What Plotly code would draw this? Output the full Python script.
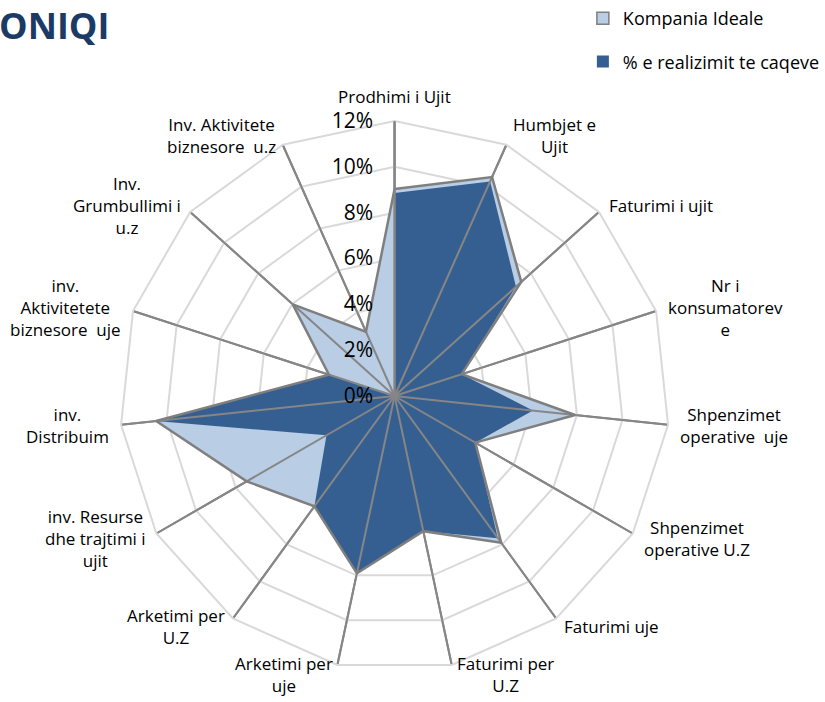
import math
import plotly.graph_objects as go

categories = ["Prodhimi i Ujit", "Humbjet e Ujit", "Faturimi i ujit", "Nr i konsumatorev e",
              "Shpenzimet operative uje", "Shpenzimet operative U.Z", "Faturimi uje",
              "Faturimi per U.Z", "Arketimi per uje", "Arketimi per U.Z",
              "inv. Resurse dhe trajtimi i ujit", "inv. Distribuim",
              "inv. Aktivitetete biznesore uje", "Inv. Grumbullimi i u.z",
              "Inv. Aktivitete biznesore u.z"]
tick_labels = ["Prodhimi i Ujit", "Humbjet e<br>Ujit", "Faturimi i ujit", "Nr i<br>konsumatorev<br>e",
               "Shpenzimet<br>operative  uje", "Shpenzimet<br>operative U.Z", "Faturimi uje",
               "Faturimi per<br>U.Z", "Arketimi per<br>uje", "Arketimi per<br>U.Z",
               "inv. Resurse<br>dhe trajtimi i<br>ujit", "inv.<br>Distribuim",
               "inv.<br>Aktivitetete<br>biznesore  uje", "Inv.<br>Grumbullimi i<br>u.z",
               "Inv. Aktivitete<br>biznesore  u.z"]
ideal = [0.0903, 0.1046, 0.0744, 0.0308, 0.0792, 0.0407, 0.0792, 0.0603, 0.0791, 0.0595,
         0.0745, 0.1046, 0.0301, 0.0598, 0.0307]
realized = [0.0886, 0.1025, 0.0713, 0.0308, 0.0607, 0.0407, 0.0767, 0.0603, 0.0791, 0.0595,
            0.0343, 0.1046, 0.0301, 0.0, 0.0]
series_names = ["Kompania Ideale", "% e realizimit te caqeve"]
radial_ticks = [0, 0.02, 0.04, 0.06, 0.08, 0.10, 0.12]

LIGHT = "#b9cde5"
DARK = "#355f91"
OUTLINE = "#7f7f7f"
GRID = "#d9d9d9"
SPOKE = "#868686"
FONT = "Open Sans"

W, H = 825, 702
CX, CY, R = 396, 396, 276  # centre (px from top-left) and radius of the polar area

fig = go.Figure()
closed_cats = categories + categories[:1]
fig.add_trace(go.Scatterpolar(r=ideal + ideal[:1], theta=closed_cats, fill="toself",
                              fillcolor=LIGHT, line=dict(width=0, color=LIGHT),
                              mode="lines", showlegend=False, hoverinfo="skip"))
fig.add_trace(go.Scatterpolar(r=realized + realized[:1], theta=closed_cats, fill="toself",
                              fillcolor=DARK, line=dict(width=0, color=DARK),
                              mode="lines", showlegend=False, hoverinfo="skip"))
# spokes over the fills
for c in categories:
    fig.add_trace(go.Scatterpolar(r=[0, radial_ticks[-1]], theta=[c, c], mode="lines",
                                  line=dict(color=SPOKE, width=2), showlegend=False,
                                  hoverinfo="skip"))
# outline of the ideal series
fig.add_trace(go.Scatterpolar(r=ideal + ideal[:1], theta=closed_cats, mode="lines",
                              line=dict(color=OUTLINE, width=2.5), showlegend=False,
                              hoverinfo="skip"))
# centre dot
fig.add_trace(go.Scatterpolar(r=[0], theta=[categories[0]], mode="markers",
                              marker=dict(color=SPOKE, size=9), showlegend=False,
                              hoverinfo="skip"))
# legend entries
fig.add_trace(go.Scatterpolar(r=[None], theta=[categories[0]], mode="markers", name=series_names[0],
                              marker=dict(symbol="square", size=12, color=LIGHT,
                                          line=dict(color=OUTLINE, width=1.5)),
                              legendgroup="a"))
fig.add_trace(go.Scatterpolar(r=[None], theta=[categories[0]], mode="markers", name=series_names[1],
                              marker=dict(symbol="square", size=12, color=DARK,
                                          line=dict(color=DARK, width=0)),
                              legendgroup="b"))

# category labels placed just outside the outer ring
annotations = []
n = len(categories)
for i, lab in enumerate(tick_labels):
    a = math.radians(360.0 * i / n)
    s, c = math.sin(a), math.cos(a)
    vx = (CX + R * s) / W
    vy = (H - CY + R * c) / H
    if abs(s) < 0.05:
        annotations.append(dict(text=lab, x=vx, y=vy, xref="paper", yref="paper",
                                xanchor="center", yanchor="bottom" if c > 0 else "top",
                                yshift=10 if c > 0 else -10, showarrow=False, align="center",
                                font=dict(size=17, family=FONT, color="#000000")))
    else:
        sg = 1 if s > 0 else -1
        annotations.append(dict(text=lab, x=vx, y=vy, xref="paper", yref="paper",
                                xanchor="left" if s > 0 else "right", yanchor="middle",
                                xshift=sg * (1 + 9 * abs(s)), yshift=9 * c,
                                showarrow=False, align="center",
                                font=dict(size=17, family=FONT, color="#000000")))

annotations.append(dict(text="<b>ONIQI</b>", xref="paper", yref="paper", x=111 / W, y=1 - 25 / H,
                        xanchor="right", yanchor="middle", showarrow=False,
                        font=dict(size=36, color="#1b3a66", family=FONT)))

fig.update_layout(
    width=W, height=H,
    margin=dict(l=0, r=0, t=0, b=0),
    paper_bgcolor="white",
    font=dict(family=FONT, color="#000000", size=15),
    showlegend=True,
    legend=dict(x=585 / W, y=1.0, xanchor="left", yanchor="top", tracegroupgap=17,
                itemwidth=30, font=dict(size=18, family=FONT), bgcolor="rgba(0,0,0,0)"),
    polar=dict(
        domain=dict(x=[(CX - R) / W, (CX + R) / W], y=[(H - CY - R) / H, (H - CY + R) / H]),
        bgcolor="white",
        gridshape="linear",
        radialaxis=dict(range=[0, 0.12], tickvals=radial_ticks, tickformat=".0%",
                        angle=90, side="counterclockwise", tickangle=90,
                        showline=True, linecolor=SPOKE,
                        linewidth=2, gridcolor=GRID, gridwidth=2,
                        ticks="outside", ticklen=13, tickcolor="rgba(0,0,0,0)",
                        tickfont=dict(size=21, family=FONT), layer="above traces"),
        angularaxis=dict(direction="clockwise", rotation=90, showticklabels=False,
                         showline=True, linecolor=GRID, linewidth=2,
                         gridcolor=SPOKE, gridwidth=2, ticks=""),
    ),
    annotations=annotations,
)

fig.write_html("out.html", post_script="document.body.style.margin='0';",
               config={"displayModeBar": False})
